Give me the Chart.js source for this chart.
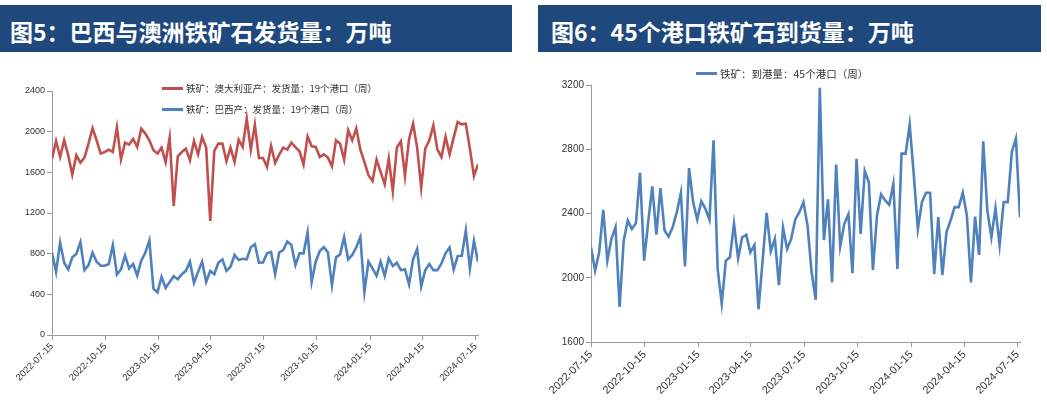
<!DOCTYPE html>
<html>
<head>
<meta charset="utf-8">
<script src="https://cdn.jsdelivr.net/npm/chart.js@4"></script>
<style>
  body { margin: 0; width: 1047px; height: 405px; background: #fff; position: relative; overflow: hidden; }
  .head { position: absolute; top: 5px; height: 47px; background: #1F497D; color: #fff;
          font: bold 23px "Noto Sans CJK SC", sans-serif; line-height: 47px; padding: 3px 0 0 10px;
          box-sizing: border-box; white-space: nowrap; }
  .box { position: absolute; top: 55px; }
  .legend { position: absolute; font-family: "Noto Sans CJK SC", sans-serif; color: #333; }
  .legend div { display: flex; align-items: center; height: 20.7px; white-space: nowrap; }
  .legend i { display: inline-block; width: 21px; height: 3px; margin-right: 3px; }
</style>
</head>
<body>
<div class="head" style="left:0;width:512px">图5：巴西与澳洲铁矿石发货量：万吨</div>
<div class="head" style="left:538px;width:503px;padding-left:13px">图6：45个港口铁矿石到货量：万吨</div>
<canvas id="shipChart" class="box" style="left:0" width="512" height="350"></canvas>
<canvas id="portChart" class="box" style="left:537px" width="510" height="350"></canvas>
<div id="shipLegend" class="legend" style="left:162px;top:78px;font-size:9.5px"></div>
<div id="portLegend" class="legend" style="left:696px;top:63px;font-size:10.5px"></div>

<script>
// weekly series, first week = startDate
const startDate = '2022-07-15';
const tickLabels = ['2022-07-15', '2022-10-15', '2023-01-15', '2023-04-15', '2023-07-15',
                    '2023-10-15', '2024-01-15', '2024-04-15', '2024-07-15'];

const ausLabel = '铁矿：澳大利亚产：发货量：19个港口（周）';
const braLabel = '铁矿：巴西产：发货量：19个港口（周）';
const portLabel = '铁矿：到港量：45个港口（周）';

const ausShip = [1735, 1908, 1751, 1915, 1768, 1577, 1768, 1695, 1745, 1882,
                 2036, 1915, 1784, 1800, 1823, 1800, 2043, 1728, 1892, 1872,
                 1928, 1849, 2030, 1981, 1915, 1817, 1784, 1843, 1700, 1941,
                 1269, 1758, 1800, 1833, 1718, 1908, 1777, 1948, 1843, 1122,
                 1810, 1882, 1882, 1709, 1843, 1702, 1922, 1849, 2128, 1823,
                 2069, 1741, 1741, 1653, 1859, 1692, 1774, 1843, 1823, 1892,
                 1849, 1807, 1676, 1954, 1856, 1849, 1751, 1777, 1745, 1659,
                 1915, 1882, 1725, 2013, 1915, 2030, 1823, 1702, 1571, 1515,
                 1725, 1604, 1482, 1735, 1414, 1843, 1905, 1564, 1925, 2079,
                 1843, 1450, 1833, 1915, 2062, 1823, 1751, 1948, 1777, 1941,
                 2095, 2072, 2079, 1833, 1564, 1679];

const braShip = [810, 621, 909, 711, 645, 764, 797, 912, 638, 688,
                 810, 721, 681, 681, 698, 883, 595, 645, 783, 655,
                 698, 585, 731, 810, 929, 456, 420, 572, 463, 522,
                 579, 549, 598, 631, 721, 512, 621, 721, 522, 631,
                 598, 711, 744, 631, 671, 787, 737, 750, 744, 863,
                 893, 711, 714, 803, 817, 598, 813, 836, 919, 886,
                 688, 803, 803, 1008, 522, 721, 826, 863, 813, 489,
                 764, 793, 962, 744, 787, 863, 962, 423, 721, 655,
                 582, 721, 582, 754, 678, 711, 638, 645, 499, 744,
                 846, 479, 638, 698, 638, 638, 704, 803, 860, 645,
                 777, 780, 1028, 655, 926, 721];

const portArrival = [2190, 2044, 2158, 2423, 2106, 2242, 2315, 1819, 2231, 2356,
                     2304, 2340, 2654, 2106, 2346, 2569, 2269, 2558, 2294, 2256,
                     2315, 2408, 2529, 2071, 2683, 2471, 2363, 2477, 2429, 2361,
                     2856, 2054, 1840, 2106, 2127, 2336, 2121, 2252, 2267, 2158,
                     2204, 1804, 2106, 2404, 2165, 2242, 1954, 2313, 2179, 2242,
                     2363, 2408, 2471, 2325, 2033, 1863, 3183, 2235, 2488, 1971,
                     2704, 2196, 2336, 2396, 2029, 2740, 2273, 2665, 2596, 2048,
                     2388, 2519, 2481, 2454, 2585, 2054, 2773, 2773, 2954, 2640,
                     2304, 2471, 2529, 2529, 2023, 2377, 2017, 2283, 2356, 2440,
                     2440, 2529, 2388, 1971, 2381, 2142, 2850, 2419, 2252, 2433,
                     2204, 2471, 2471, 2783, 2867, 2377];

const RED = '#C0504D';
const BLUE = '#4F81BD';

const dayOf = s => Math.round((Date.parse(s) - Date.parse(startDate)) / 864e5);
const tickDays = tickLabels.map(dayOf);
const toPoints = arr => arr.map((v, i) => ({ x: i * 7, y: v }));

function lineSet(label, values, color) {
    return {
        label: label,
        data: toPoints(values),
        borderColor: color,
        backgroundColor: color,
        borderWidth: 2.6,
        pointRadius: 0,
        tension: 0,
        fill: false
    };
}

function makeChart(id, datasets, yMin, yMax, o) {
    const lastDay = (datasets[0].data.length - 1) * 7;
    return new Chart(document.getElementById(id), {
        type: 'line',
        data: { datasets: datasets },
        options: {
            responsive: false,
            animation: false,
            layout: { padding: o.padding },
            plugins: { legend: { display: false }, tooltip: { enabled: false } },
            scales: {
                x: {
                    type: 'linear',
                    min: 0,
                    max: lastDay,
                    afterBuildTicks: s => { s.ticks = tickDays.map(v => ({ value: v })); },
                    afterFit: s => { s.height = o.xHeight; },
                    border: { color: '#999' },
                    grid: { drawOnChartArea: false, tickLength: 5, color: '#999' },
                    ticks: {
                        autoSkip: false, minRotation: 45, maxRotation: 45, padding: 1,
                        color: '#333', font: { family: 'Liberation Sans', size: o.xFont },
                        callback: (v, i) => tickLabels[i]
                    }
                },
                y: {
                    min: yMin,
                    max: yMax,
                    afterFit: s => { s.width = o.yWidth; },
                    border: { color: '#999' },
                    grid: { drawOnChartArea: false, tickLength: 5, color: '#999' },
                    ticks: {
                        stepSize: 400, padding: 2, color: '#333',
                        font: { family: 'Liberation Sans', size: o.yFont },
                        callback: v => String(v)
                    }
                }
            }
        }
    });
}

function buildLegend(el, datasets) {
    datasets.forEach(ds => {
        const row = document.createElement('div');
        const mark = document.createElement('i');
        mark.style.background = ds.borderColor;
        row.appendChild(mark);
        row.appendChild(document.createTextNode(ds.label));
        el.appendChild(row);
    });
}

const shipSets = [lineSet(ausLabel, ausShip, RED), lineSet(braLabel, braShip, BLUE)];
const portSets = [lineSet(portLabel, portArrival, BLUE)];

makeChart('shipChart', shipSets, 0, 2400, {
    padding: { left: 7, right: 34, top: 36, bottom: 10 },
    yWidth: 45, xHeight: 60, xFont: 9.5, yFont: 9
});
makeChart('portChart', portSets, 1600, 3200, {
    padding: { left: 9, right: 27, top: 30, bottom: 8 },
    yWidth: 45, xHeight: 55, xFont: 11, yFont: 10
});

buildLegend(document.getElementById('shipLegend'), shipSets);
buildLegend(document.getElementById('portLegend'), portSets);
</script>
</body>
</html>
